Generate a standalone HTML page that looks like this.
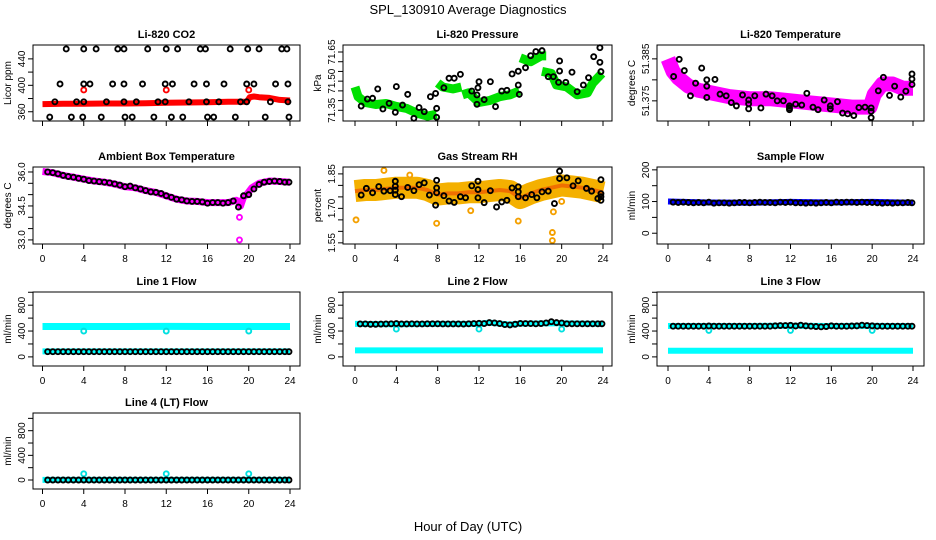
<!DOCTYPE html>
<html><head><meta charset="utf-8"><style>
body{margin:0;background:#fff}
svg{display:block;font-family:"Liberation Sans",sans-serif}
</style></head><body>
<svg id="chart" width="936" height="540" viewBox="0 0 936 540" xmlns="http://www.w3.org/2000/svg">
<text x="468" y="14" text-anchor="middle" font-size="13">SPL_130910  Average Diagnostics</text>
<text x="468" y="531" text-anchor="middle" font-size="13">Hour of Day (UTC)</text>
</svg>
<script>
// ---- data ----
const xTicks = [0,4,8,12,16,20,24];
const H48 = [0.5,1,1.5,2,2.5,3,3.5,4,4.5,5,5.5,6,6.5,7,7.5,8,8.5,9,9.5,10,10.5,11,11.5,12,12.5,13,13.5,14,14.5,15,15.5,16,16.5,17,17.5,18,18.5,19,19.5,20,20.5,21,21.5,22,22.5,23,23.5,23.9];

// CO2
const co2BlackH = [2.3,4.0,5.2,7.3,7.9,10.2,12.0,13.1,15.3,15.8,18.2,19.9,21.0,23.2,23.7, 1.7,4.0,4.6,6.8,7.9,9.7,11.9,12.6,14.7,15.9,17.6,19.8,20.5,22.6,23.8, 1.2,3.3,4.0,6.2,7.9,9.1,11.2,11.9,14.2,15.9,17.1,19.2,19.8,22.1,23.8, 0.7,2.8,3.9,5.7,8.0,8.7,10.8,12.5,13.6,16.0,16.6,18.7,21.6,23.9];
const co2BlackV = [455,455,455,455,455,455,455,455,455,455,455,455,455,455,455, 402,402,402,402,402,402,402,402,402,402,402,402,402,402,402, 375,375,375,375,375,375,375,375,375,375,375,375,375,375,375, 352,352,352,352,352,352,352,352,352,352,352,352,352,352];
const co2RedH = [0,2,4,6,8,10,12,14,16,18,19.8,20.1,20.5,21,22,23,24];
const co2RedV = [371.5,372,372,372.5,372.5,373,373.5,374,374.5,375,375,382,383,382,381,378,377];
const co2RedOutH = [4,12,20];
const co2RedOutV = [393,393,393];

// Pressure
const presBlackH = [0.6,1.2,1.7,2.2,2.7,3.3,3.9,4.0,4.6,5.1,5.7,6.2,6.7,7.3,7.8,7.9,7.9,8.6,9.1,9.6,10.2,11.3,11.9,11.8,11.8,12.0,12.5,13.1,13.6,14.2,14.7,15.2,15.8,15.8,15.9,16.5,17.0,17.5,18.1,19.8,19.8,18.7,19.2,19.7,20.4,21.0,21.5,22.1,22.6,23.1,23.7,23.7,23.8];
const presBlackV = [71.372,71.408,71.412,71.460,71.357,71.386,71.340,71.472,71.377,71.432,71.309,71.364,71.343,71.420,71.437,71.360,71.314,71.466,71.515,71.515,71.535,71.449,71.466,71.429,71.381,71.497,71.405,71.497,71.369,71.449,71.453,71.537,71.551,71.480,71.432,71.569,71.631,71.652,71.657,71.604,71.552,71.523,71.523,71.494,71.494,71.546,71.446,71.480,71.518,71.626,71.597,71.672,71.549];
const presGreenH = [0,0.3,1,2,3,4,5,6,7,7.9,null,8.0,8.5,9.5,10.3,null,10.4,11,12,13,14,15,15.9,null,16.0,16.5,17,18,18.5,null,18.1,19,19.5,20.5,21.5,22.5,23,23.9];
const presGreenV = [71.47,71.42,71.39,71.38,71.385,71.37,71.36,71.335,71.32,71.33,null,71.49,71.47,71.46,71.47,null,71.43,71.44,71.39,71.40,71.42,71.43,71.45,null,71.62,71.61,71.60,71.63,71.63,null,71.55,71.54,71.48,71.47,71.43,71.44,71.49,71.54];

// Li-820 temperature
const tempBlackH = [0.55,1.1,1.6,2.2,2.7,3.3,3.8,3.8,3.8,4.6,5.1,5.7,6.2,6.7,7.3,7.9,7.9,7.9,8.5,9.1,9.6,10.2,10.7,11.3,11.9,11.9,11.9,12.5,13.1,13.6,14.2,14.7,15.3,15.9,15.9,16.6,17.1,17.6,18.2,18.7,19.3,19.9,19.9,19.9,20.6,21.1,21.7,22.2,22.8,23.3,23.9,23.9,23.9];
const tempBlackV = [51.3808,51.3849,51.3822,51.3762,51.3792,51.3828,51.3800,51.3785,51.3758,51.3801,51.3766,51.3762,51.3746,51.3738,51.3764,51.3752,51.3731,51.3743,51.3762,51.3733,51.3766,51.3762,51.3750,51.3750,51.3738,51.3729,51.3733,51.3742,51.3740,51.3768,51.3735,51.3729,51.3752,51.3738,51.3731,51.3748,51.3721,51.3719,51.3715,51.3734,51.3735,51.3733,51.3725,51.3710,51.3774,51.3806,51.3763,51.3785,51.3759,51.3773,51.3789,51.3814,51.3802];
const tempMagH = [0,0.5,1,2,3,4,5,6,8,10,12,14,16,18,19.8,20.2,21,22,23,24];
const tempMagV = [51.3850,51.3820,51.3805,51.3785,51.3775,51.3770,51.3765,51.3760,51.3755,51.3755,51.3750,51.3745,51.3740,51.3735,51.3735,51.3765,51.3790,51.3790,51.3780,51.3780];

// Ambient box temperature
const ambBlackV = [36.0,35.97,35.92,35.85,35.8,35.77,35.72,35.68,35.62,35.6,35.57,35.55,35.52,35.47,35.42,35.35,35.38,35.3,35.25,35.18,35.12,35.1,35.05,34.95,34.88,34.8,34.77,34.72,34.7,34.7,34.68,34.62,34.65,34.65,34.62,34.65,34.72,34.45,34.95,35.0,35.25,35.45,35.55,35.58,35.6,35.58,35.55,35.55];
const ambMagH = [0,1,2,3,4,5,6,7,8,9,10,11,12,13,14,15,16,17,18,18.8,19.0,19.2,19.5,19.8,20.3,21,22,23,24];
const ambMagV = [36.02,35.97,35.85,35.77,35.68,35.6,35.55,35.47,35.35,35.3,35.18,35.1,34.95,34.8,34.72,34.7,34.65,34.65,34.65,34.75,34.7,34.5,34.9,35.0,35.3,35.5,35.6,35.58,35.55];
const ambOutH = [19.1,19.1];
const ambOutV = [34.0,33.0];

// Gas stream RH
const rhBlackH = [0.6,1.1,1.7,2.3,2.8,3.4,3.9,3.9,3.9,3.9,4.5,5.1,5.7,6.2,6.7,7.2,7.8,7.9,7.9,7.9,8.6,9.1,9.6,10.2,10.7,11.3,11.9,11.9,11.9,12.5,13.1,13.7,14.2,14.7,15.2,15.8,15.8,15.8,16.5,17.1,17.6,18.1,18.7,19.3,19.8,19.8,20.5,21.1,21.6,22.4,22.9,23.5,23.8,23.8,23.8,23.8];
const rhBlackV = [1.758,1.787,1.768,1.795,1.775,1.777,1.818,1.796,1.779,1.760,1.751,1.791,1.777,1.803,1.811,1.758,1.714,1.822,1.789,1.768,1.755,1.732,1.726,1.751,1.746,1.798,1.782,1.746,1.818,1.725,1.777,1.706,1.728,1.735,1.789,1.794,1.772,1.751,1.746,1.760,1.746,1.772,1.775,1.721,1.862,1.830,1.833,1.798,1.820,1.787,1.775,1.743,1.735,1.764,1.751,1.825];
const rhBandH = [0,1,2,3,4,5,6,7,8,9,10,11,12,13,14,15,16,17,18,19,20,21,22,23,24];
const rhBandV = [1.775,1.78,1.78,1.785,1.79,1.79,1.79,1.78,1.76,1.765,1.765,1.77,1.77,1.775,1.78,1.775,1.745,1.765,1.78,1.79,1.8,1.795,1.79,1.78,1.77];
const rhOutH = [0.1,2.8,7.9,19.1,19.1,19.2,15.8,20.0,5.3,11.2];
const rhOutV = [1.65,1.865,1.635,1.595,1.56,1.685,1.645,1.73,1.845,1.69];

// Sample flow
const sfBlackV = [98,97,98,97,96,97,96,98,95,96,96,95,96,97,97,96,97,98,97,97,96,98,97,98,96,96,95,96,95,96,97,96,98,97,98,98,97,98,97,97,96,95,96,95,96,96,97,96];
const sfBlueH = [0,4,8,12,16,20,24];
const sfBlueV = [100,97,96,99,97,99,96];

// Line 1 flow
const l1BlackV = [80,80,80,80,80,80,80,80,80,80,80,80,80,80,80,80,80,80,80,80,80,80,80,80,80,80,80,80,80,80,80,80,80,80,80,80,80,80,80,80,80,80,80,80,80,80,80,80];
const l1HiH = [0,4,8,12,16,20,24];
const l1HiV = [470,470,470,472,470,470,470];
const l1LoH = [0,24];
const l1LoV = [85,85];
const l1OutH = [4,12,20];
const l1OutV = [400,400,400];

// Line 2 flow
const l2BlackV = [510,510,505,505,508,510,512,515,510,510,512,510,510,512,512,512,510,510,510,510,508,512,515,520,515,530,525,515,500,495,505,518,515,515,512,515,525,545,530,525,512,512,512,512,512,512,512,512];
const l2HiH = [0,4,8,12,13,15,16,20,24];
const l2HiV = [510,505,510,510,530,500,515,520,510];
const l2LoH = [0,24];
const l2LoV = [100,100];
const l2OutH = [4,12,20];
const l2OutV = [430,430,430];

// Line 3 flow
const l3BlackV = [475,475,475,475,475,475,475,478,475,475,475,475,475,475,475,475,475,475,475,475,480,485,485,488,478,490,480,475,470,465,470,480,475,475,475,478,480,490,485,480,475,475,475,475,475,475,475,475];
const l3HiH = [0,4,8,12,16,20,24];
const l3HiV = [478,478,478,482,478,480,478];
const l3LoH = [0,24];
const l3LoV = [95,95];
const l3OutH = [4,12,20];
const l3OutV = [410,410,410];

// Line 4 flow
const l4BlackV = [0,0,0,0,0,0,0,0,0,0,0,0,0,0,0,0,0,0,0,0,0,0,0,0,0,0,0,0,0,0,0,0,0,0,0,0,0,0,0,0,0,0,0,0,0,0,0,0];
const l4CyH = [0,24];
const l4CyV = [2,2];
const l4OutH = [4,12,20];
const l4OutV = [100,100,100];

// ---- layout ----
const NS = 'http://www.w3.org/2000/svg';
const svg = document.getElementById('chart');
function el(tag, attrs, parent) {
  const e = document.createElementNS(NS, tag);
  for (const k in attrs) e.setAttribute(k, attrs[k]);
  (parent || svg).appendChild(e);
  return e;
}
const COLS = [{l:33,r:300,x0:42.5,x24:290},{l:343,r:612,x0:355,x24:603},{l:657,r:924,x0:668,x24:913}];
const ROWS = [{t:45,b:121,xl:false},{t:167,b:244,xl:true},{t:292,b:366,xl:true},{t:413,b:489,xl:true}];

function panel(name, title, ylab, col, row, yTop, yBot, ticks, labels) {
  const C = COLS[col], R = ROWS[row];
  const g = el('g', {});
  
  
  const xs = h => C.x0 + (C.x24 - C.x0) * h / 24;
  const ys = v => R.t + (R.b - R.t) * (yTop - v) / (yTop - yBot);
  const t = el('text', {x:(C.l+C.r)/2, y:R.t-7, 'text-anchor':'middle', 'font-size':11, 'font-weight':'bold'}, g);
  t.textContent = title;
  
  
  const yl = el('text', {transform:`translate(${C.l-22},${(R.t+R.b)/2}) rotate(-90)`, 'text-anchor':'middle', 'font-size':10}, g);
  yl.textContent = ylab;
  
  
  ticks.forEach(v => {
    const y = ys(v);
    el('line', {x1:C.l-5, x2:C.l, y1:y, y2:y, stroke:'#000', 'stroke-width':1}, g);
  });
  labels.forEach(v => {
    const y = ys(v.v);
    const tx = el('text', {transform:`translate(${C.l-8},${y}) rotate(-90)`, 'text-anchor':'middle', 'font-size':10}, g);
    tx.textContent = v.t;
    
    
  });
  xTicks.forEach(h => {
    const x = xs(h);
    el('line', {x1:x, x2:x, y1:R.b, y2:R.b+5, stroke:'#000', 'stroke-width':1}, g);
    if (R.xl) {
      const tx = el('text', {x:x, y:R.b+18, 'text-anchor':'middle', 'font-size':10}, g);
      tx.textContent = h;
      
      
    }
  });
  const plot = el('g', {}, g);
  el('rect', {x:C.l, y:R.t, width:C.r-C.l, height:R.b-R.t, fill:'none', stroke:'#000', 'stroke-width':1}, g);
  return {xs, ys, g:plot, name};
}
function band(P, H, V, color, w, nm) {
  let d = '', pen = false;
  for (let i = 0; i < H.length; i++) {
    if (H[i] === null) { pen = false; continue; }
    d += (pen ? 'L' : 'M') + P.xs(H[i]).toFixed(1) + ',' + P.ys(V[i]).toFixed(1);
    pen = true;
  }
  const p = el('path', {d, fill:'none', stroke:color, 'stroke-width':w, 'stroke-linecap':'butt', 'stroke-linejoin':'round'}, P.g);
  
  
}
function pts(P, H, V, color, nm, r, sw) {
  for (let i = 0; i < H.length; i++) {
    const c = el('circle', {cx:P.xs(H[i]), cy:P.ys(V[i]), r:r||2.5, fill:'none', stroke:color, 'stroke-width':sw||1.9}, P.g);
    
    
  }
}
const L = (v,t) => ({v, t: t === undefined ? String(v) : t});

let P = panel('co2', 'Li-820 CO2', 'Licor ppm', 0, 0, 461, 346, [360,380,400,420,440], [L(360),L(400),L(440)]);
band(P, co2RedH, co2RedV, '#ff0000', 6, 'red-series');
pts(P, co2RedOutH, co2RedOutV, '#ff0000', 'red-point');
pts(P, co2BlackH, co2BlackV, '#000', 'black-point');

P = panel('pressure', 'Li-820 Pressure', 'kPa', 1, 0, 71.686, 71.295, [71.35,71.40,71.45,71.50,71.55,71.60,71.65], [L(71.35,'71.35'),L(71.50,'71.50'),L(71.65,'71.65')]);
band(P, presGreenH, presGreenV, '#00e000', 9, 'green-series');
pts(P, presBlackH, presBlackV, '#000', 'black-point');

P = panel('li820-temp', 'Li-820 Temperature', 'degrees C', 2, 0, 51.3883, 51.3702, [51.375,51.380,51.385], [L(51.375,'51.375'),L(51.385,'51.385')]);
band(P, tempMagH, tempMagV, '#ff00ff', 15, 'magenta-series');
pts(P, tempBlackH, tempBlackV, '#000', 'black-point');

P = panel('ambient-temp', 'Ambient Box Temperature', 'degrees C', 0, 1, 36.22, 32.82, [33,33.5,34,34.5,35,35.5,36], [L(33,'33.0'),L(34.5,'34.5'),L(36,'36.0')]);
band(P, ambMagH, ambMagV, '#ff00ff', 7, 'magenta-series');
pts(P, ambOutH, ambOutV, '#ff00ff', 'magenta-point');
pts(P, H48, ambBlackV, '#000', 'black-point');

P = panel('gas-rh', 'Gas Stream RH', 'percent', 1, 1, 1.88, 1.545, [1.55,1.60,1.65,1.70,1.75,1.80,1.85], [L(1.55,'1.55'),L(1.70,'1.70'),L(1.85,'1.85')]);
band(P, rhBandH, rhBandV, '#f4b000', 22, 'orange-series');
band(P, rhBandH, rhBandV, '#f07000', 4, 'orange-core');
pts(P, rhOutH, rhOutV, '#f4a000', 'orange-point');
pts(P, rhBlackH, rhBlackV, '#000', 'black-point');

P = panel('sample-flow', 'Sample Flow', 'ml/min', 2, 1, 209, -34, [0,50,100,150,200], [L(0),L(100),L(200)]);
band(P, sfBlueH, sfBlueV, '#0000ff', 6, 'blue-series');
pts(P, H48, sfBlackV, '#000', 'black-point');

const flowTicks = [0,200,400,600,800,1000];
const flowLabels = [L(0),L(400),L(800)];
P = panel('line1-flow', 'Line 1 Flow', 'ml/min', 0, 2, 1004, -141, flowTicks, flowLabels);
band(P, l1HiH, l1HiV, '#00ffff', 7, 'cyan-series');
band(P, l1LoH, l1LoV, '#00ffff', 6, 'cyan-low-series');
pts(P, l1OutH, l1OutV, '#00e0e0', 'cyan-point');
pts(P, H48, l1BlackV, '#000', 'black-point');
P = panel('line2-flow', 'Line 2 Flow', 'ml/min', 1, 2, 1004, -141, flowTicks, flowLabels);
band(P, l2LoH, l2LoV, '#00ffff', 6, 'cyan-low-series');
band(P, l2HiH, l2HiV, '#00ffff', 6, 'cyan-series');
pts(P, l2OutH, l2OutV, '#00e0e0', 'cyan-point');
pts(P, H48, l2BlackV, '#000', 'black-point');
P = panel('line3-flow', 'Line 3 Flow', 'ml/min', 2, 2, 1004, -141, flowTicks, flowLabels);
band(P, l3LoH, l3LoV, '#00ffff', 6, 'cyan-low-series');
band(P, l3HiH, l3HiV, '#00ffff', 6, 'cyan-series');
pts(P, l3OutH, l3OutV, '#00e0e0', 'cyan-point');
pts(P, H48, l3BlackV, '#000', 'black-point');
P = panel('line4-flow', 'Line 4 (LT) Flow', 'ml/min', 0, 3, 1087, -146, flowTicks, flowLabels);
band(P, l4CyH, l4CyV, '#00ffff', 6, 'cyan-series');
pts(P, l4OutH, l4OutV, '#00e0e0', 'cyan-point');
pts(P, H48, l4BlackV, '#000', 'black-point');
</script>
</body></html>
